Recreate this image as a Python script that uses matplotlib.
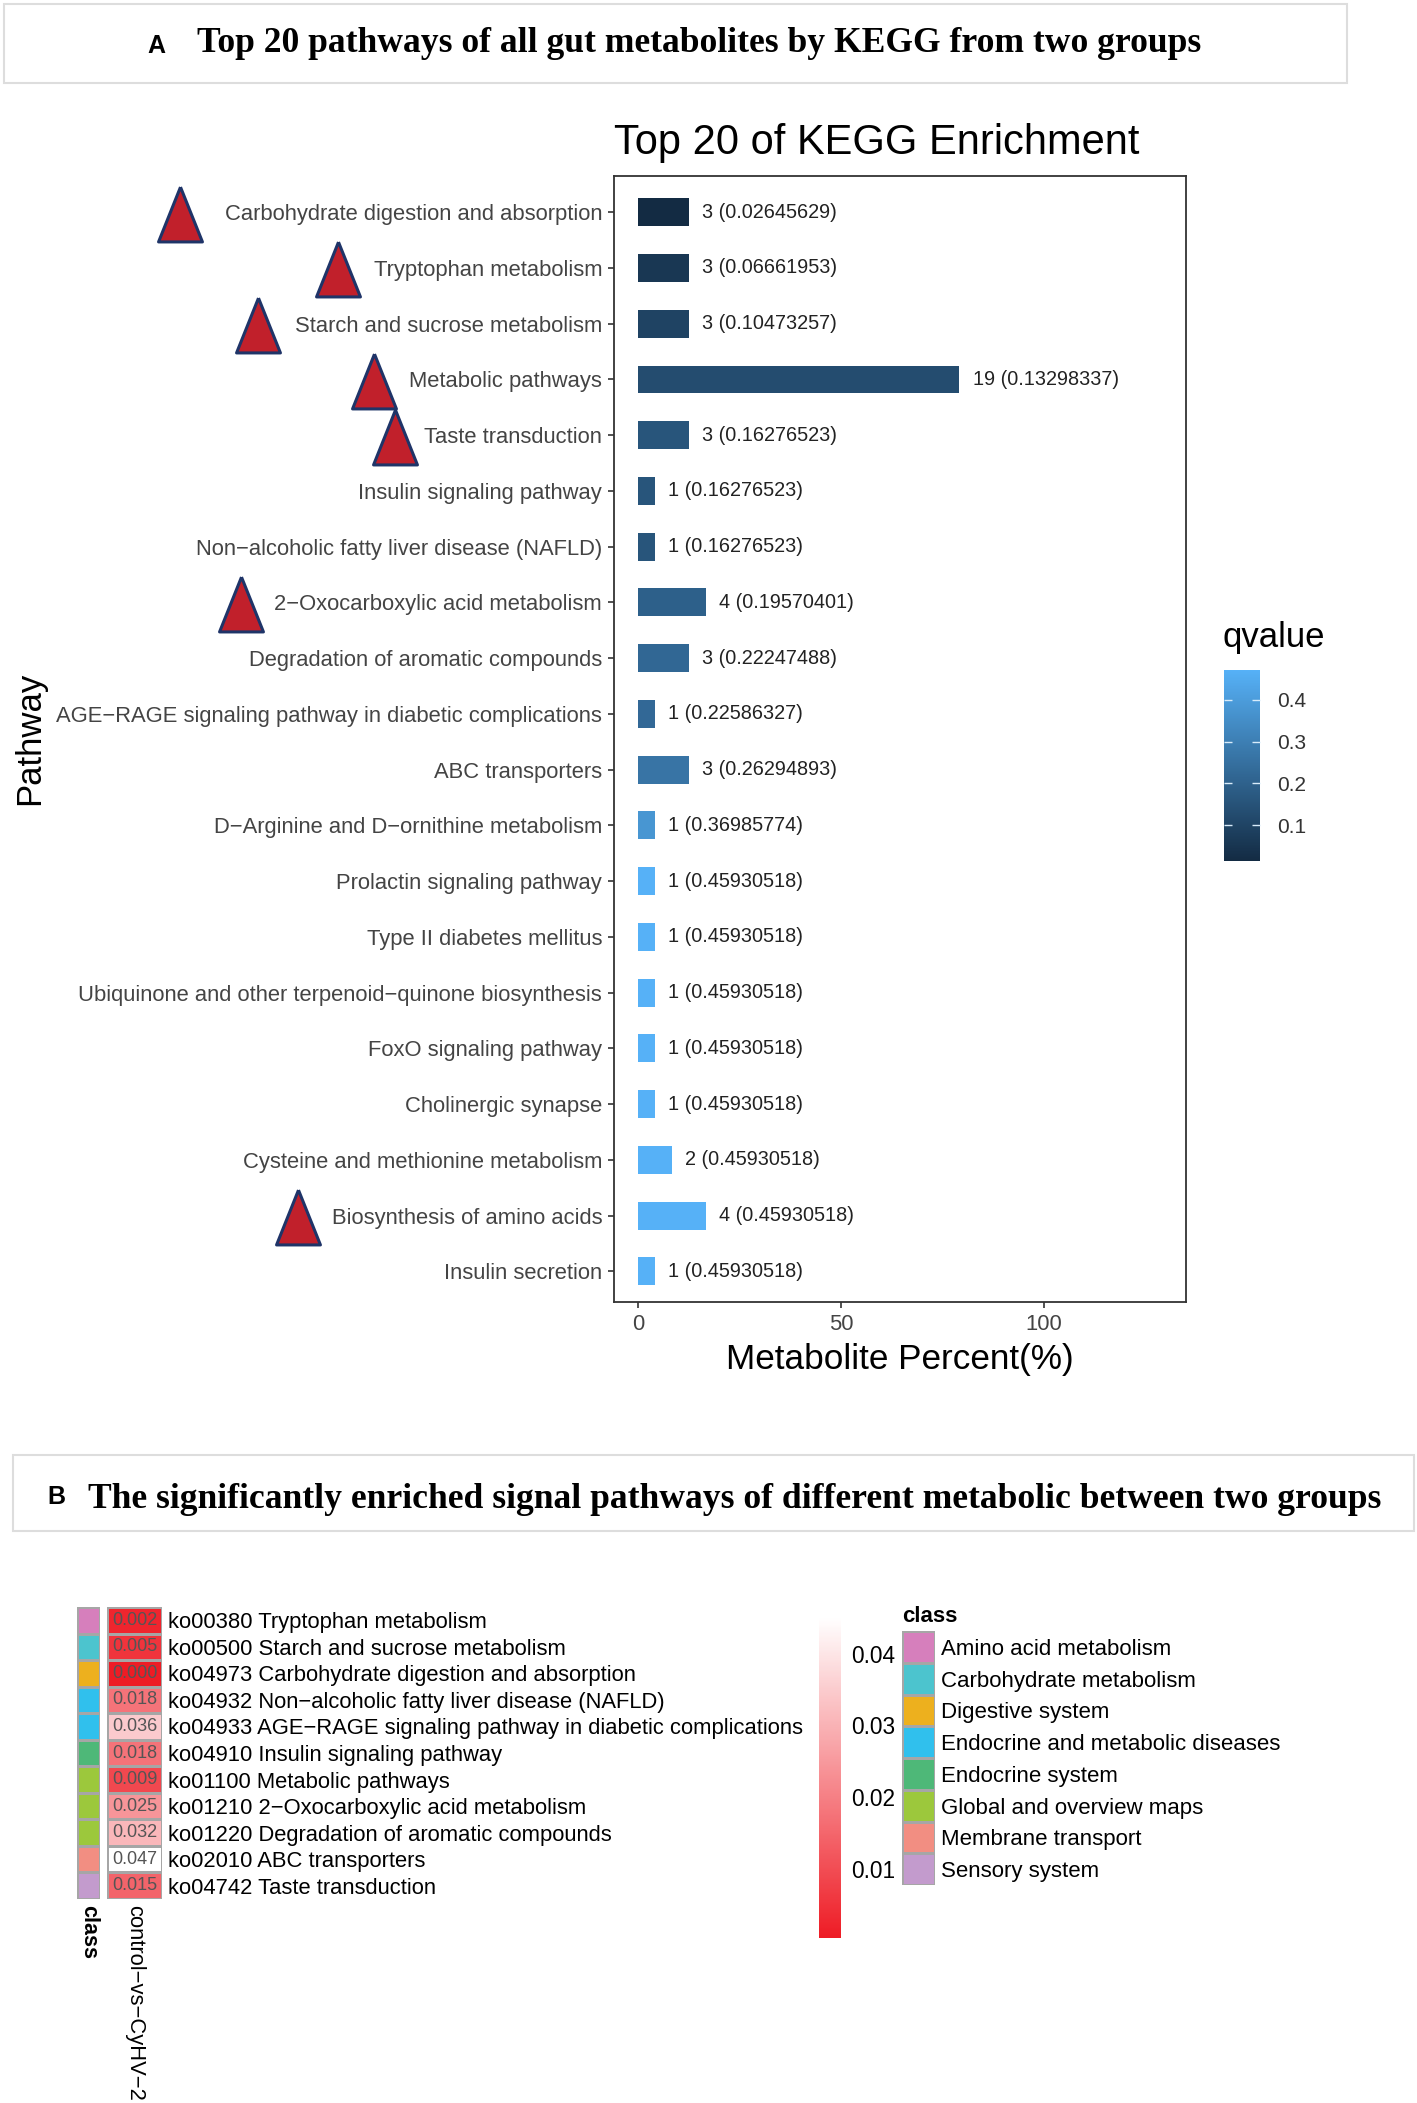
import numpy as np
import matplotlib
matplotlib.use("Agg")
import matplotlib.pyplot as plt
from matplotlib.colors import LinearSegmentedColormap, ListedColormap, Normalize
from matplotlib.cm import ScalarMappable
from matplotlib.patches import Rectangle
from matplotlib.lines import Line2D

plt.rcParams["font.family"] = ["Liberation Sans", "DejaVu Sans"]

# * Panel A: top 20 KEGG pathways
pathways = [
    "Carbohydrate digestion and absorption",
    "Tryptophan metabolism",
    "Starch and sucrose metabolism",
    "Metabolic pathways",
    "Taste transduction",
    "Insulin signaling pathway",
    "Non\u2212alcoholic fatty liver disease (NAFLD)",
    "2\u2212Oxocarboxylic acid metabolism",
    "Degradation of aromatic compounds",
    "AGE\u2212RAGE signaling pathway in diabetic complications",
    "ABC transporters",
    "D\u2212Arginine and D\u2212ornithine metabolism",
    "Prolactin signaling pathway",
    "Type II diabetes mellitus",
    "Ubiquinone and other terpenoid\u2212quinone biosynthesis",
    "FoxO signaling pathway",
    "Cholinergic synapse",
    "Cysteine and methionine metabolism",
    "Biosynthesis of amino acids",
    "Insulin secretion",
]
counts = [3, 3, 3, 19, 3, 1, 1, 4, 3, 1, 3, 1, 1, 1, 1, 1, 1, 2, 4, 1]
percent = [12.5, 12.5, 12.5, 79.17, 12.5, 4.17, 4.17, 16.67, 12.5, 4.17,
           12.5, 4.17, 4.17, 4.17, 4.17, 4.17, 4.17, 8.33, 16.67, 4.17]
qvalues = [0.02645629, 0.06661953, 0.10473257, 0.13298337, 0.16276523,
           0.16276523, 0.16276523, 0.19570401, 0.22247488, 0.22586327,
           0.26294893, 0.36985774, 0.45930518, 0.45930518, 0.45930518,
           0.45930518, 0.45930518, 0.45930518, 0.45930518, 0.45930518]
qvalue_ticks = [0.1, 0.2, 0.3, 0.4]

# * pathways marcados con triangulo (gap en px desde el inicio de la etiqueta)
marcados = {
    "Carbohydrate digestion and absorption": 45,
    "Tryptophan metabolism": 36,
    "Starch and sucrose metabolism": 37,
    "Metabolic pathways": 35,
    "Taste transduction": 29,
    "2\u2212Oxocarboxylic acid metabolism": 33,
    "Biosynthesis of amino acids": 34,
}

# * Panel B: heatmap
ko_labels = [
    "ko00380 Tryptophan metabolism",
    "ko00500 Starch and sucrose metabolism",
    "ko04973 Carbohydrate digestion and absorption",
    "ko04932 Non\u2212alcoholic fatty liver disease (NAFLD)",
    "ko04933 AGE\u2212RAGE signaling pathway in diabetic complications",
    "ko04910 Insulin signaling pathway",
    "ko01100 Metabolic pathways",
    "ko01210 2\u2212Oxocarboxylic acid metabolism",
    "ko01220 Degradation of aromatic compounds",
    "ko02010 ABC transporters",
    "ko04742 Taste transduction",
]
ko_values = [0.002, 0.005, 0.000, 0.018, 0.036, 0.018, 0.009, 0.025, 0.032, 0.047, 0.015]
ko_class = [
    "Amino acid metabolism",
    "Carbohydrate metabolism",
    "Digestive system",
    "Endocrine and metabolic diseases",
    "Endocrine and metabolic diseases",
    "Endocrine system",
    "Global and overview maps",
    "Global and overview maps",
    "Global and overview maps",
    "Membrane transport",
    "Sensory system",
]
clases = [
    "Amino acid metabolism",
    "Carbohydrate metabolism",
    "Digestive system",
    "Endocrine and metabolic diseases",
    "Endocrine system",
    "Global and overview maps",
    "Membrane transport",
    "Sensory system",
]
colores_clase = ["#D67FBC", "#4CC4CE", "#EDB01E", "#30C0ED",
                 "#4EB878", "#9CC83C", "#F28E82", "#C39BCD"]
heat_ticks = [0.01, 0.02, 0.03, 0.04]
heat_legend_range = [0.0004, 0.0451]

W, H = 1417, 2103
fig = plt.figure(figsize=(W / 100, H / 100), dpi=100)


def fx(px):
    return px / W


def fy(py):
    return 1 - py / H


# * cajas de encabezado
for x0, y0, x1, y1 in [(4, 4, 1347, 83), (13, 1455, 1414, 1531)]:
    fig.add_artist(Rectangle((fx(x0), fy(y1)), fx(x1 - x0), (y1 - y0) / H,
                             transform=fig.transFigure, facecolor="white",
                             edgecolor="#dddddd", linewidth=1.5))
fig.text(fx(147), fy(46), "A", fontsize=18, fontweight="bold", va="center")
fig.text(fx(197), fy(44), "Top 20 pathways of all gut metabolites by KEGG from two groups",
         family="Liberation Serif", fontsize=25.6, fontweight="bold", va="center")
fig.text(fx(47), fy(1497), "B", fontsize=18, fontweight="bold", va="center")
fig.text(fx(88), fy(1499),
         "The significantly enriched signal pathways of different metabolic between two groups",
         family="Liberation Serif", fontsize=25.6, fontweight="bold", va="center")

# * barras
cmap_q = LinearSegmentedColormap.from_list("q", ["#132B43", "#56B1F7"])
norm_q = Normalize(min(qvalues), max(qvalues))

ax = fig.add_axes([fx(614), fy(1302), fx(1186 - 614), (1302 - 176) / H])
ypos = np.arange(len(pathways), 0, -1)
ax.barh(ypos, percent, height=0.5, color=cmap_q(norm_q(qvalues)))
for y, p, c, q in zip(ypos, percent, counts, qvalues):
    ax.annotate(f"{c} ({q:.8f})", (p, y), xytext=(9.5, 0), textcoords="offset points",
                va="center", ha="left", fontsize=14.3, color="#222222")
ax.set_ylim(0.45, len(pathways) + 0.65)
ax.set_xlim(-5.9, 135)
ax.set_yticks(ypos)
ax.set_yticklabels(pathways)
ax.set_xticks([0, 50, 100])
ax.tick_params(axis="both", labelsize=15.8, labelcolor="#444444", color="#333333",
               length=4, width=1.2, pad=4.5)
for s in ax.spines.values():
    s.set_color("#333333")
    s.set_linewidth(1.3)
ax.set_title("Top 20 of KEGG Enrichment", loc="left", fontsize=30, pad=16)
fig.text(fx(900), fy(1360), "Metabolite Percent(%)", fontsize=25.3, ha="center", va="center")
fig.text(fx(30), fy(738), "Pathway", fontsize=25, rotation=90, ha="center", va="center")

# * leyenda qvalue (la barra de ggplot se extiende medio bin por cada lado)
qlo, qhi = min(qvalues), max(qvalues)
ext = (qhi - qlo) * 0.025 / 0.95
cax = fig.add_axes([fx(1224), fy(861), fx(1260 - 1224), (861 - 670) / H])
cb = fig.colorbar(ScalarMappable(Normalize(qlo - ext, qhi + ext), cmap_q), cax=cax,
                  ticks=qvalue_ticks)
cb.outline.set_visible(False)
cb.ax.set_yticklabels([f"{t:.1f}" for t in qvalue_ticks])
cax.tick_params(direction="in", length=6, width=1, color="#d8ecfb", left=True, right=True,
                labelsize=15, labelcolor="#333333", pad=12)
fig.text(fx(1222), fy(638), "qvalue", fontsize=25, va="center", ha="left")

# * triangulos junto a las etiquetas
fig.canvas.draw()
tri = [(0, 0.5), (-0.4, -0.5), (0.4, -0.5), (0, 0.5)]
for lab in ax.get_yticklabels():
    gap = marcados.get(lab.get_text())
    if gap is None:
        continue
    bb = lab.get_window_extent()
    xc = (bb.x0 - gap) / W
    yc = ((bb.y0 + bb.y1) / 2 + 1) / H
    fig.add_artist(Line2D([xc], [yc], transform=fig.transFigure, marker=tri,
                          markersize=39.5, markerfacecolor="#C1202B",
                          markeredgecolor="#1F3468", markeredgewidth=2.2,
                          linestyle="none"))

# * heatmap de clases
n = len(ko_labels)
idx_clase = np.array([clases.index(c) for c in ko_class]).reshape(-1, 1)
cls_ax = fig.add_axes([fx(77), fy(1899), fx(23), (1899 - 1607) / H])
cls_ax.pcolormesh(idx_clase, cmap=ListedColormap(colores_clase), vmin=-0.5,
                  vmax=len(clases) - 0.5, edgecolors="#a6a6a6", linewidth=0.8)
cls_ax.set_ylim(n, 0)
cls_ax.set_yticks([])
cls_ax.set_xticks([0.5])
cls_ax.set_xticklabels(["class"], rotation=-90, fontweight="bold", fontsize=15.5, va="top")
cls_ax.tick_params(length=0, pad=4)
for s in cls_ax.spines.values():
    s.set_visible(False)

cmap_r = LinearSegmentedColormap.from_list("r", ["#EE1C25", "#FFFFFF"])
vmin, vmax = min(ko_values), max(ko_values)
val_ax = fig.add_axes([fx(107), fy(1899), fx(55), (1899 - 1607) / H])
val_ax.pcolormesh(np.array(ko_values).reshape(-1, 1), cmap=cmap_r, vmin=vmin, vmax=vmax,
                  edgecolors="#a6a6a6", linewidth=0.8)
for i, v in enumerate(ko_values):
    val_ax.text(0.5, i + 0.5, f"{v:.3f}", ha="center", va="center", fontsize=13,
                color="#555555")
val_ax.set_ylim(n, 0)
val_ax.yaxis.tick_right()
val_ax.set_yticks(np.arange(n) + 0.5)
val_ax.set_yticklabels(ko_labels, fontsize=15.8)
val_ax.set_xticks([0.5])
val_ax.set_xticklabels(["control\u2212vs\u2212CyHV\u22122"], rotation=-90, fontsize=15.8, va="top")
val_ax.tick_params(length=0, pad=4)
for s in val_ax.spines.values():
    s.set_visible(False)

# * barra de color roja
rcax = fig.add_axes([fx(819), fy(1938), fx(22), (1938 - 1617) / H])
rcb = fig.colorbar(ScalarMappable(Normalize(*heat_legend_range), cmap_r), cax=rcax,
                   ticks=heat_ticks)
rcb.outline.set_visible(False)
rcb.ax.set_yticklabels([f"{t:.2f}" for t in heat_ticks])
rcax.tick_params(length=0, labelsize=16.3, pad=7)

# * leyenda de clases
leg_ax = fig.add_axes([fx(902), fy(1885), fx(33), (1885 - 1631) / H])
leg_ax.pcolormesh(np.arange(len(clases)).reshape(-1, 1), cmap=ListedColormap(colores_clase),
                  vmin=-0.5, vmax=len(clases) - 0.5, edgecolors="#a6a6a6", linewidth=0.8)
leg_ax.set_ylim(len(clases), 0)
leg_ax.yaxis.tick_right()
leg_ax.set_yticks(np.arange(len(clases)) + 0.5)
leg_ax.set_yticklabels(clases, fontsize=16)
leg_ax.set_xticks([])
leg_ax.tick_params(length=0, pad=4)
for s in leg_ax.spines.values():
    s.set_visible(False)
fig.text(fx(902), fy(1617), "class", fontsize=16, fontweight="bold", va="center")

plt.savefig("out.png", dpi=100)
print("GRAFICA out.png realizada con éxito!")
